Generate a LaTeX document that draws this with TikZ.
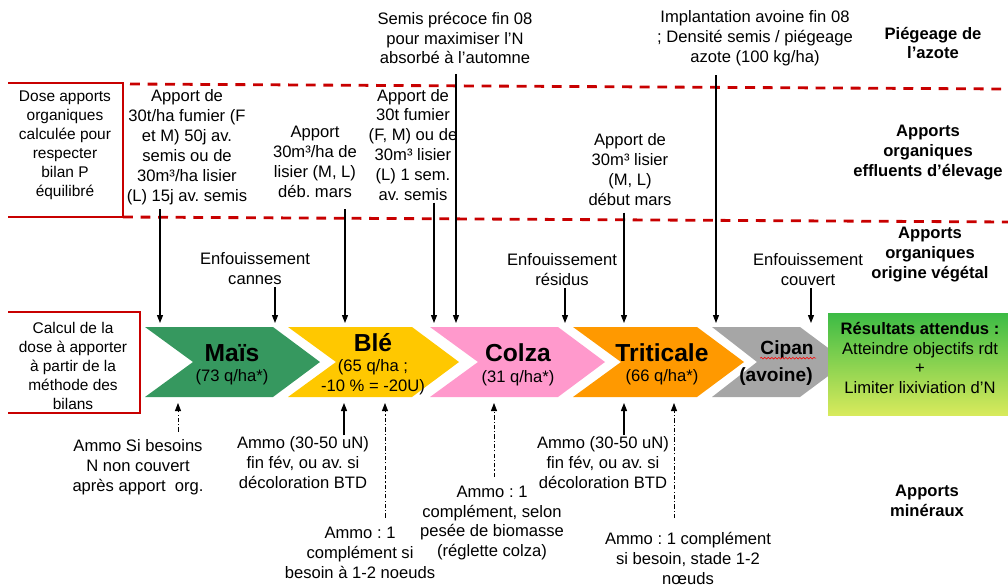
\documentclass[tikz,border=0pt]{standalone}
\usepackage{fontspec}
\setmainfont{Liberation Sans}
\usetikzlibrary{arrows.meta, decorations.pathmorphing}
\definecolor{maisgreen}{HTML}{36985F}
\definecolor{blegold}{HTML}{FFC800}
\definecolor{colzapink}{HTML}{FF99CC}
\definecolor{tritorange}{HTML}{FF9900}
\definecolor{cipangray}{HTML}{A6A6A6}
\definecolor{resgreen}{HTML}{3CBB45}
\definecolor{reslime}{HTML}{D8EA5C}
\definecolor{rulered}{HTML}{C80000}
\frenchspacing

% chevron: left x, top-right x, colour, notch depth
\newcommand{\chevron}[4]{%
  \fill[#3] (#1,327) -- (#2,327) -- ++(47,35) -- ++(-47,35) -- (#1,397) -- ++(#4,-35) -- cycle;}

\begin{document}
\begin{tikzpicture}[x=0.025cm, y=-0.025cm, >={Triangle[length=2mm, width=1.5mm]},
  txt/.style={align=center, inner sep=1pt, font=\fontsize{11.8}{14.2}\selectfont},
  rowlabel/.style={align=center, inner sep=1pt, font=\fontsize{11.8}{14.2}\selectfont\bfseries},
  sidetxt/.style={align=center, inner sep=1pt, font=\fontsize{11}{13.5}\selectfont},
  croptitle/.style={inner sep=0pt, font=\fontsize{17.5}{20}\selectfont\bfseries},
  cropyield/.style={align=center, inner sep=0pt, font=\fontsize{11.8}{14.2}\selectfont},
  redrule/.style={rulered, line width=2pt, dash pattern=on 7pt off 5.5pt},
  redbox/.style={draw=rulered, line width=1.6pt},
  down/.style={->, black, line width=0.8pt},
  dashup/.style={->, black, line width=0.6pt, dash pattern=on 3pt off 1.5pt on 0.8pt off 1.5pt}
]
\useasboundingbox (0,0) rectangle (1008,586);

% Bands
\draw[redrule] (130,84) -- (1008,89);
\draw[redrule] (123,217) -- (1008,222);
\draw[redbox] (8,83) -- (123,83) -- (123,217) -- (8,217);
\draw[redbox] (8,312) -- (140,312) -- (140,413) -- (8,413);

% Chevrons
\chevron{145}{273}{maisgreen}{48}
\chevron{288}{412}{blegold}{48}
\chevron{430}{558}{colzapink}{48}
\chevron{573}{697}{tritorange}{48}
\chevron{712}{800}{cipangray}{45}
\shade[top color=resgreen, bottom color=reslime] (828,313) rectangle (1008,415);

% Crop labels
\node[croptitle] (mais) at (232,353) {Maïs};
\node[cropyield] (maisq) at (232,377) {(73 q/ha*)};
\node[croptitle] (ble) at (373,343) {Blé};
\node[cropyield] (bleq) at (373,377) {(65 q/ha ;\\-10 \% = -20U)};
\node[croptitle] (colza) at (518,353) {Colza};
\node[cropyield] (colzaq) at (518,378) {(31 q/ha*)};
\node[croptitle] (trit) at (662,353) {Triticale};
\node[cropyield] (tritq) at (662,377) {(66 q/ha*)};
\node[inner sep=0pt, font=\fontsize{13.6}{16}\selectfont\bfseries] (cipan) at (787,350) {Cipan};
\node[inner sep=0pt, font=\fontsize{13.6}{16}\selectfont\bfseries] (avoine) at (776,377) {(avoine)};
\draw[red, line width=0.4pt, decorate, decoration={snake, amplitude=0.6pt, segment length=2.5pt}]
  (cipan.south west) ++(0,-1) -- ++(56,0);
\node[txt] (res) at (920,358) {\textbf{Résultats attendus :}\\Atteindre objectifs rdt\\+\\Limiter lixiviation d'N};

% Row labels
\node[rowlabel] (piege) at (933,43) {Piégeage de\\l’azote};
\node[rowlabel] (effl) at (928,153) {Apports\\organiques\\effluents d’élevage};
\node[rowlabel] (veg) at (930,255) {Apports\\organiques\\origine végétal};
\node[rowlabel] (mine) at (927,501) {Apports\\minéraux};

% Left boxes
\node[sidetxt] (dose) at (65,145) {Dose apports\\organiques\\calculée pour\\respecter\\bilan P\\équilibré};
\node[sidetxt] (calcul) at (73,366) {Calcul de la\\dose à apporter\\à partir de la\\méthode des\\bilans};

% Top notes
\node[txt] (semis) at (455,38) {Semis précoce fin 08\\pour maximiser l’N\\absorbé à l’automne};
\node[txt] (implant) at (755,38) {Implantation avoine fin 08\\; Densité semis / piégeage\\azote (100 kg/ha)};

% Organic inputs
\node[txt] (org1) at (187,147) {Apport de\\30t/ha fumier (F\\et M) 50j av.\\semis ou de\\30m³/ha lisier\\(L) 15j av. semis};
\node[txt] (org2) at (315,162) {Apport\\30m³/ha de\\lisier (M, L)\\déb. mars};
\node[txt] (org3) at (413,145) {Apport de\\30t fumier\\(F, M) ou de\\30m³ lisier\\(L) 1 sem.\\av. semis};
\node[txt] (org4) at (630,170) {Apport de\\30m³ lisier\\(M, L)\\début mars};

% Residues
\node[txt] (enf1) at (255,269) {Enfouissement\\cannes};
\node[txt] (enf2) at (562,270) {Enfouissement\\résidus};
\node[txt] (enf3) at (808,270) {Enfouissement\\couvert};

% Mineral inputs
\node[txt] (min1) at (138,467) {Ammo Si besoins\\N non couvert\\après apport~~org.};
\node[txt] (min2) at (303,463) {Ammo (30-50 uN)\\fin fév, ou av. si\\décoloration BTD};
\node[txt] (min3) at (360,553) {Ammo : 1\\complément si\\besoin à 1-2 noeuds};
\node[txt] (min4) at (492,523) {Ammo : 1\\complément, selon\\pesée de biomasse\\(réglette colza)};
\node[txt] (min5) at (603,463) {Ammo (30-50 uN)\\fin fév, ou av. si\\décoloration BTD};
\node[txt] (min6) at (688,558) {Ammo : 1 complément\\si besoin, stade 1-2\\nœuds};

% Arrow ends on the chevrons
\coordinate (d1) at (160,323);
\coordinate (d2) at (275,323);
\coordinate (d3) at (345,323);
\coordinate (d4) at (434,323);
\coordinate (d5) at (456,323);
\coordinate (d6) at (565,323);
\coordinate (d7) at (624,323);
\coordinate (d8) at (716,323);
\coordinate (d9) at (811,323);
\coordinate (u1) at (178,403);
\coordinate (u2) at (344,403);
\coordinate (u3) at (385,403);
\coordinate (u4) at (494,403);
\coordinate (u5) at (624,403);
\coordinate (u6) at (674,403);

% Downward arrows
\draw[down] (org1.south -| d1) ++(0,3) -- (d1);
\draw[down] (enf1.south -| d2) -- (d2);
\draw[down] (org2.south -| d3) ++(0,10) -- (d3);
\draw[down] (org3.south -| d4) -- (d4);
\draw[down] (semis.south -| d5) ++(0,8) -- (d5);
\draw[down] (enf2.south -| d6) -- (d6);
\draw[down] (org4.south -| d7) ++(0,5) -- (d7);
\draw[down] (implant.south -| d8) ++(0,8) -- (d8);
\draw[down] (enf3.south -| d9) -- (d9);

% Upward arrows
\draw[dashup] (min1.north -| u1) ++(0,-6) -- (u1);
\draw[down] (min2.north -| u2) -- (u2);
\draw[dashup] (min3.north -| u3) ++(0,-8) -- (u3);
\draw[dashup] (min4.north -| u4) ++(0,-7) -- (u4);
\draw[down] (min5.north -| u5) -- (u5);
\draw[dashup] (min6.north -| u6) ++(0,-12) -- (u6);

\end{tikzpicture}
\end{document}
